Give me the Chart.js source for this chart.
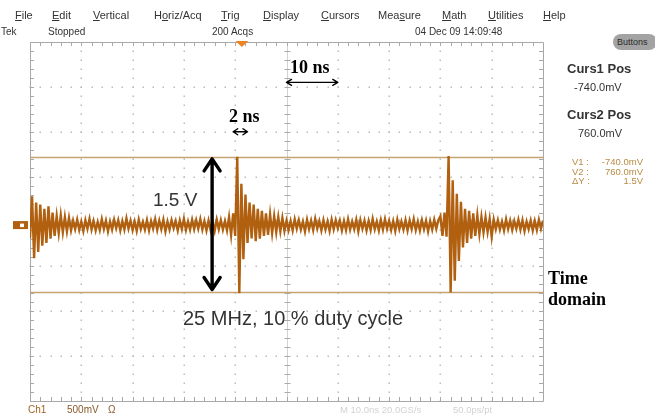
<!DOCTYPE html>
<html><head><meta charset="utf-8">
<script src="https://cdn.jsdelivr.net/npm/chart.js@4"></script>
<style>
html,body{margin:0;padding:0;background:#fff;}
#wrap{position:relative;width:655px;height:416px;overflow:hidden;background:#fff;}
#c{position:absolute;left:0;top:0;}
.t{position:absolute;white-space:nowrap;line-height:1;font-family:"Liberation Sans",Arial,sans-serif;}
.m{font-size:11px;color:#333;top:10px;}
.s{font-size:10px;color:#333;top:27px;}
.b{font-size:13px;font-weight:bold;color:#333;}
.v{font-size:11px;color:#333;}
.y{font-size:9.5px;color:#b98c45;}
.serif{font-family:"Liberation Serif","Times New Roman",serif;font-weight:bold;color:#000;font-size:18px;}
.ann{color:#333;}
#btn{position:absolute;left:613px;top:34px;width:44px;height:16px;border-radius:8px;background:#a3a3a3;font:9px "Liberation Sans",Arial,sans-serif;color:#2a2a2a;line-height:16px;padding-left:4px;box-sizing:border-box;}
</style></head>
<body>
<div id="wrap">
<canvas id="c" width="655" height="416"></canvas>

<span class="t m" style="left:15px"><u>F</u>ile</span>
<span class="t m" style="left:52px"><u>E</u>dit</span>
<span class="t m" style="left:93px"><u>V</u>ertical</span>
<span class="t m" style="left:154px">H<u>o</u>riz/Acq</span>
<span class="t m" style="left:221px"><u>T</u>rig</span>
<span class="t m" style="left:263px"><u>D</u>isplay</span>
<span class="t m" style="left:321px"><u>C</u>ursors</span>
<span class="t m" style="left:378px">Mea<u>s</u>ure</span>
<span class="t m" style="left:442px"><u>M</u>ath</span>
<span class="t m" style="left:488px"><u>U</u>tilities</span>
<span class="t m" style="left:543px"><u>H</u>elp</span>

<span class="t s" style="left:1px">Tek</span>
<span class="t s" style="left:48px">Stopped</span>
<span class="t s" style="left:212px">200 Acqs</span>
<span class="t s" style="left:415px">04 Dec 09 14:09:48</span>

<div id="btn">Buttons</div>
<span class="t b" style="left:567px;top:62px">Curs1 Pos</span>
<span class="t v" style="left:574px;top:82px">-740.0mV</span>
<span class="t b" style="left:567px;top:108px">Curs2 Pos</span>
<span class="t v" style="left:578px;top:128px">760.0mV</span>
<span class="t y" style="left:572px;top:157px">V1 :</span>
<span class="t y" style="left:572px;top:166.5px">V2 :</span>
<span class="t y" style="left:572px;top:176px">&Delta;Y :</span>
<span class="t y" style="right:12px;top:157px">-740.0mV</span>
<span class="t y" style="right:12px;top:166.5px">760.0mV</span>
<span class="t y" style="right:12px;top:176px">1.5V</span>

<span class="t" style="left:28px;top:405px;font-size:10px;color:#a0621e">Ch1</span>
<span class="t" style="left:67px;top:405px;font-size:10px;color:#8a5a2a">500mV</span>
<span class="t" style="left:108px;top:405px;font-size:10px;color:#8a5a2a">&Omega;</span>
<span class="t" style="left:340px;top:405px;font-size:9.5px;color:#d2d2d2">M 10.0ns 20.0GS/s</span>
<span class="t" style="left:453px;top:405px;font-size:9.5px;color:#d2d2d2">50.0ps/pt</span>

<span class="t serif" style="left:290px;top:58px">10 ns</span>
<span class="t serif" style="left:229px;top:107px">2 ns</span>
<span class="t ann" style="left:153px;top:190px;font-size:19px">1.5 V</span>
<span class="t ann" style="left:183px;top:308px;font-size:20px">25 MHz, 10 % duty cycle</span>
<span class="t serif" style="left:548px;top:269px">Time</span>
<span class="t serif" style="left:548px;top:290px">domain</span>
</div>

<script>
// ---- data ----
const sampleStepNs = 0.4;          // scope sample spacing (ns)
const timeRangeNs = [0, 100];       // 10 div x 10 ns
const voltRangeMv = [-1960, 2040];  // 8 div x 500 mV (screen offset)
const timeDivTicksNs = [0,10,20,30,40,50,60,70,80,90,100];
const voltDivTicksMv = [-1960,-1460,-960,-460,40,540,1040,1540,2040];
const cursorLevelsMv = [-740, 760];
const triggerTimeNs = 41.3;
const groundLevelMv = 0;
const traceMv = [
 -150,320,-370,250,-300,230,-230,180,-200,210,-150,140,-120,
 100,-90,110,-80,90,-70,80,-60,
 50,-45,60,-55,40,-65,55,-40,70,-50,45,-60,35,-55,65,-45,50,-70,40,-50,
 60,-35,55,-60,45,-50,75,-40,50,-55,40,-65,60,-45,35,-50,55,-60,45,-40,
 65,-55,50,-45,60,-70,40,-50,55,-35,45,-60,50,-45,70,-55,40,-50,60,-45,
 55,-40,65,-50,45,-60,50,-55,40,-65,60,-45,55,-50,45,-60,
 90,-110,130,-120,
 760,-760,460,-380,340,-200,250,-150,230,-180,180,-150,160,-120,130,-110,120,-90,100,-80,90,-70,80,-65,
 50,-55,45,-60,65,-40,55,-50,40,-70,60,-45,50,-55,70,-40,45,-60,55,-50,
 40,-65,60,-45,55,-35,50,-60,45,-55,65,-50,40,-45,60,-70,55,-40,50,-60,
 45,-55,70,-45,40,-60,55,-50,65,-40,50,-55,45,-65,60,-45,40,-50,55,-60,
 50,-45,65,-55,40,-60,55,-45,50,-70,45,-50,60,-40,55,100,-120,140,-130,
 770,-750,500,-620,350,-400,260,-250,180,-200,160,-150,130,-120,110,-100,90,-80,85,-75,70,-130,
 60,-45,55,-50,40,-60,65,-45,50,-55,45,-40,60,-50,55,-65,40,-45,50,-60,45,-55,60,-40,50
];
// annotation spans (in data units)
const tenNsSpan = [50, 60];
const tenNsLevelMv = 1590;
const twoNsSpan = [39.6, 42.4];
const twoNsLevelMv = 1040;
const bigArrowTimeNs = 35.5;

const graticule = {
  id: 'graticule',
  beforeDatasetsDraw(chart) {
    const {ctx, chartArea: a, scales: {x, y}} = chart;
    ctx.save();
    const minorX = [], minorY = [];
    for (let i = 0; i < timeDivTicksNs.length - 1; i++) {
      const t0 = timeDivTicksNs[i], t1 = timeDivTicksNs[i + 1];
      for (let k = 0; k < 5; k++) minorX.push(x.getPixelForValue(t0 + (t1 - t0) * k / 5));
    }
    for (let i = 0; i < voltDivTicksMv.length - 1; i++) {
      const v0 = voltDivTicksMv[i], v1 = voltDivTicksMv[i + 1];
      for (let k = 0; k < 5; k++) minorY.push(y.getPixelForValue(v0 + (v1 - v0) * k / 5));
    }
    const cx = Math.round(x.getPixelForValue(timeDivTicksNs[5])) + 0.5;
    const cy = Math.round(y.getPixelForValue(voltDivTicksMv[4])) + 0.5;
    ctx.fillStyle = '#bcbcbc';
    timeDivTicksNs.slice(1, -1).forEach((t, i) => {
      if (i === 4) return;
      const px = Math.round(x.getPixelForValue(t));
      minorY.forEach(py => ctx.fillRect(px - 0.5, Math.round(py) - 0.5, 1.5, 1.5));
    });
    voltDivTicksMv.slice(1, -1).forEach((v, i) => {
      if (i === 3) return;
      const py = Math.round(y.getPixelForValue(v));
      minorX.forEach(px => ctx.fillRect(Math.round(px) - 0.5, py - 0.5, 1.5, 1.5));
    });
    ctx.strokeStyle = '#cfd3c8';
    ctx.lineWidth = 1;
    ctx.beginPath();
    ctx.moveTo(cx, a.top); ctx.lineTo(cx, a.bottom);
    ctx.moveTo(a.left, cy); ctx.lineTo(a.right, cy);
    ctx.stroke();
    ctx.strokeStyle = '#a9aca4';
    ctx.beginPath();
    minorY.forEach(py => { const p = Math.round(py) + 0.5; ctx.moveTo(cx - 3, p); ctx.lineTo(cx + 3, p); });
    minorX.forEach(px => { const p = Math.round(px) + 0.5; ctx.moveTo(p, cy - 3); ctx.lineTo(p, cy + 3); });
    ctx.stroke();
    ctx.strokeStyle = '#a8a8a8';
    ctx.beginPath();
    ctx.rect(Math.round(a.left) + 0.5, Math.round(a.top) + 0.5, Math.round(a.right - a.left), Math.round(a.bottom - a.top));
    minorX.forEach(px => { const p = Math.round(px) + 0.5; ctx.moveTo(p, a.top); ctx.lineTo(p, a.top + 4); ctx.moveTo(p, a.bottom); ctx.lineTo(p, a.bottom - 4); });
    minorY.forEach(py => { const p = Math.round(py) + 0.5; ctx.moveTo(a.left, p); ctx.lineTo(a.left + 4, p); ctx.moveTo(a.right, p); ctx.lineTo(a.right - 4, p); });
    ctx.stroke();
    ctx.strokeStyle = '#c6a373';
    ctx.lineWidth = 1.6;
    ctx.beginPath();
    cursorLevelsMv.forEach(v => { const py = Math.round(y.getPixelForValue(v)) + 0.5; ctx.moveTo(a.left, py); ctx.lineTo(a.right, py); });
    ctx.stroke();
    ctx.restore();
  }
};

function hArrow(ctx, x1, x2, yy, head, half, lw) {
  ctx.lineWidth = lw;
  ctx.beginPath();
  ctx.moveTo(x1, yy); ctx.lineTo(x2, yy);
  ctx.moveTo(x1 + head, yy - half); ctx.lineTo(x1, yy); ctx.lineTo(x1 + head, yy + half);
  ctx.moveTo(x2 - head, yy - half); ctx.lineTo(x2, yy); ctx.lineTo(x2 - head, yy + half);
  ctx.stroke();
}
function vArrow(ctx, xx, y1, y2, head, half, lw) {
  ctx.lineWidth = lw;
  ctx.beginPath();
  ctx.moveTo(xx, y1); ctx.lineTo(xx, y2);
  ctx.moveTo(xx - half, y1 + head); ctx.lineTo(xx, y1); ctx.lineTo(xx + half, y1 + head);
  ctx.moveTo(xx - half, y2 - head); ctx.lineTo(xx, y2); ctx.lineTo(xx + half, y2 - head);
  ctx.stroke();
}

const overlay = {
  id: 'overlay',
  afterDraw(chart) {
    const {ctx, chartArea: a, scales: {x, y}} = chart;
    ctx.save();
    const gy = y.getPixelForValue(groundLevelMv);
    ctx.fillStyle = '#b0600f';
    ctx.fillRect(13, gy - 4, 15, 8);
    ctx.fillStyle = '#ffffff';
    ctx.fillRect(20, gy - 1.5, 4, 3.5);
    const tx = x.getPixelForValue(triggerTimeNs);
    ctx.fillStyle = '#f08424';
    ctx.beginPath();
    ctx.moveTo(tx - 6.5, a.top - 1); ctx.lineTo(tx + 6.5, a.top - 1); ctx.lineTo(tx, a.top + 5);
    ctx.closePath(); ctx.fill();
    ctx.strokeStyle = '#000';
    ctx.lineCap = 'round'; ctx.lineJoin = 'round';
    hArrow(ctx, x.getPixelForValue(tenNsSpan[0]), x.getPixelForValue(tenNsSpan[1]), y.getPixelForValue(tenNsLevelMv), 5, 3, 1.4);
    hArrow(ctx, x.getPixelForValue(twoNsSpan[0]), x.getPixelForValue(twoNsSpan[1]), y.getPixelForValue(twoNsLevelMv), 4.5, 3, 1.4);
    vArrow(ctx, x.getPixelForValue(bigArrowTimeNs), y.getPixelForValue(cursorLevelsMv[1]) + 2, y.getPixelForValue(cursorLevelsMv[0]) - 2, 12, 8, 3.4);
    ctx.restore();
  }
};

new Chart(document.getElementById('c'), {
  type: 'line',
  data: {
    datasets: [{
      data: traceMv.map((v, i) => ({x: i * sampleStepNs, y: v})),
      borderColor: '#b0600f',
      borderWidth: 2.4,
      pointRadius: 0,
      tension: 0,
      fill: false
    }]
  },
  options: {
    responsive: false,
    animation: false,
    layout: {padding: {left: 30, right: 112, top: 42, bottom: 15}},
    plugins: {legend: {display: false}, tooltip: {enabled: false}},
    scales: {
      x: {type: 'linear', display: false, min: timeRangeNs[0], max: timeRangeNs[1]},
      y: {type: 'linear', display: false, min: voltRangeMv[0], max: voltRangeMv[1]}
    }
  },
  plugins: [graticule, overlay]
});
</script>
</body></html>
